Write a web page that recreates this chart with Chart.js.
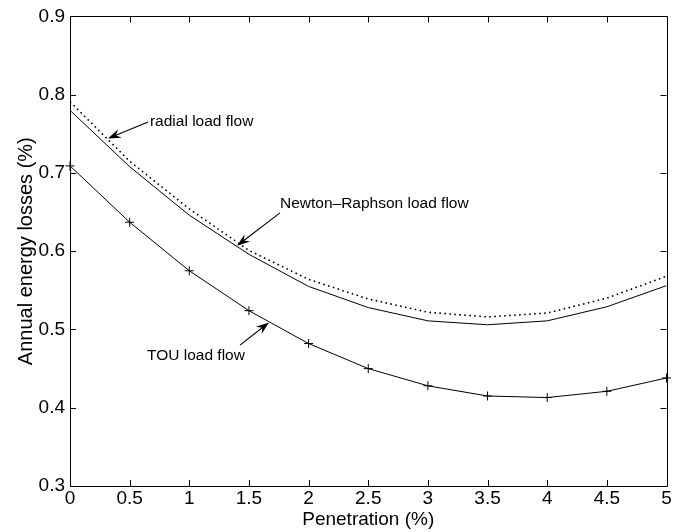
<!DOCTYPE html>
<html>
<head>
<meta charset="utf-8">
<script src="https://cdn.jsdelivr.net/npm/chart.js@4/dist/chart.umd.min.js"></script>
<style>
    html, body { margin: 0; padding: 0; background: #fff; }
    #wrap { width: 684px; height: 532px; }
</style>
</head>
<body>
<div id="wrap"><canvas id="lossChart" width="684" height="532"></canvas></div>
<script>
// ============================================================================
// DATA
// ============================================================================

const penetration = [0, 0.5, 1, 1.5, 2, 2.5, 3, 3.5, 4, 4.5, 5];
const radialLoss = [0.791, 0.715, 0.654, 0.601, 0.564, 0.539, 0.522, 0.516, 0.521, 0.540, 0.568];
const newtonLoss = [0.780, 0.708, 0.646, 0.596, 0.555, 0.528, 0.511, 0.506, 0.511, 0.529, 0.556];
const touLoss = [0.709, 0.637, 0.575, 0.524, 0.482, 0.450, 0.428, 0.415, 0.413, 0.421, 0.438];

const xTickValues = [0, 0.5, 1, 1.5, 2, 2.5, 3, 3.5, 4, 4.5, 5];
const yTickValues = [0.3, 0.4, 0.5, 0.6, 0.7, 0.8, 0.9];

// text position (x, y), arrow tail (x, y), arrow head (x, y), in data units
const notes = [
    { text: 'radial load flow', align: 'left', at: [0.67, 0.765], tail: [0.655, 0.765], head: [0.318, 0.744] },
    { text: 'Newton\u2013Raphson load flow', align: 'left', at: [1.76, 0.661], tail: [1.76, 0.649], head: [1.40, 0.607] },
    { text: 'TOU load flow', align: 'right', at: [1.466, 0.467], tail: [1.425, 0.480], head: [1.668, 0.509] }
];

const FONT = 'Liberation Sans, Arial, Helvetica, sans-serif';

function toPoints(values) {
    return penetration.map((x, i) => ({ x: x, y: values[i] }));
}

// ============================================================================
// PLUGIN: MATLAB-like box, inward ticks, arrows
// ============================================================================

const matlabAxes = {
    id: 'matlabAxes',
    afterDatasetsDraw(chart) {
        const { ctx, chartArea: a, scales: { x, y } } = chart;
        const tick = 6;
        ctx.save();
        ctx.strokeStyle = '#000';
        ctx.lineWidth = 1;
        ctx.beginPath();
        ctx.rect(Math.round(a.left) + 0.5, Math.round(a.top) + 0.5,
                 Math.round(a.right - a.left), Math.round(a.bottom - a.top));
        xTickValues.forEach(v => {
            const px = Math.round(x.getPixelForValue(v)) + 0.5;
            ctx.moveTo(px, a.bottom); ctx.lineTo(px, a.bottom - tick);
            ctx.moveTo(px, a.top); ctx.lineTo(px, a.top + tick);
        });
        yTickValues.forEach(v => {
            const py = Math.round(y.getPixelForValue(v)) + 0.5;
            ctx.moveTo(a.left, py); ctx.lineTo(a.left + tick, py);
            ctx.moveTo(a.right, py); ctx.lineTo(a.right - tick, py);
        });
        ctx.stroke();
        ctx.restore();
    },
    afterDraw(chart) {
        const { ctx, scales: { x, y } } = chart;
        ctx.save();
        ctx.fillStyle = '#000';
        ctx.strokeStyle = '#000';
        ctx.font = '15.5px ' + FONT;
        ctx.textBaseline = 'middle';
        notes.forEach(n => {
            ctx.textAlign = n.align;
            ctx.fillText(n.text, x.getPixelForValue(n.at[0]), y.getPixelForValue(n.at[1]));
            drawArrow(ctx,
                x.getPixelForValue(n.tail[0]), y.getPixelForValue(n.tail[1]),
                x.getPixelForValue(n.head[0]), y.getPixelForValue(n.head[1]));
        });
        ctx.restore();
    }
};

function drawArrow(ctx, x0, y0, x1, y1) {
    const ang = Math.atan2(y1 - y0, x1 - x0);
    const len = 13, half = 4.6;
    ctx.lineWidth = 1.1;
    ctx.beginPath();
    ctx.moveTo(x0, y0);
    ctx.lineTo(x1 - Math.cos(ang) * len * 0.6, y1 - Math.sin(ang) * len * 0.6);
    ctx.stroke();
    ctx.save();
    ctx.translate(x1, y1);
    ctx.rotate(ang);
    ctx.beginPath();
    ctx.moveTo(0, 0);
    ctx.lineTo(-len, half);
    ctx.lineTo(-len * 0.65, 0);
    ctx.lineTo(-len, -half);
    ctx.closePath();
    ctx.fill();
    ctx.restore();
}

// ============================================================================
// CHART
// ============================================================================

new Chart(document.getElementById('lossChart'), {
    type: 'line',
    data: {
        datasets: [
            {
                label: 'radial load flow',
                data: toPoints(radialLoss),
                borderColor: '#000',
                borderWidth: 1.6,
                borderDash: [1.6, 3.4],
                pointRadius: 0,
                tension: 0,
                fill: false
            },
            {
                label: 'Newton-Raphson load flow',
                data: toPoints(newtonLoss),
                borderColor: '#000',
                borderWidth: 1,
                pointRadius: 0,
                tension: 0,
                fill: false
            },
            {
                label: 'TOU load flow',
                data: toPoints(touLoss),
                borderColor: '#000',
                borderWidth: 1,
                pointStyle: 'cross',
                pointRadius: 4.5,
                pointBorderColor: '#000',
                pointBorderWidth: 1,
                tension: 0,
                fill: false,
                clip: false
            }
        ]
    },
    options: {
        responsive: false,
        animation: false,
        events: [],
        layout: { padding: { left: 0, right: 17.5, top: 15, bottom: 0 } },
        plugins: {
            legend: { display: false },
            tooltip: { enabled: false }
        },
        scales: {
            x: {
                type: 'linear',
                min: 0,
                max: 5,
                afterBuildTicks: s => { s.ticks = xTickValues.map(v => ({ value: v })); },
                afterFit: s => { s.height = 46; },
                grid: { display: false, drawTicks: false },
                border: { display: false },
                ticks: {
                    autoSkip: false,
                    maxRotation: 0,
                    padding: 1,
                    color: '#000',
                    font: { family: FONT, size: 19 },
                    callback: v => String(v)
                },
                title: {
                    display: true,
                    text: 'Penetration (%)',
                    color: '#000',
                    font: { family: FONT, size: 19 },
                    padding: { top: 0, bottom: 1 }
                }
            },
            y: {
                type: 'linear',
                min: 0.3,
                max: 0.9,
                afterBuildTicks: s => { s.ticks = yTickValues.map(v => ({ value: v })); },
                afterFit: s => { s.width = 70; },
                grid: { display: false, drawTicks: false },
                border: { display: false },
                ticks: {
                    autoSkip: false,
                    padding: 5,
                    color: '#000',
                    font: { family: FONT, size: 19 },
                    callback: v => Number(v).toFixed(1)
                },
                title: {
                    display: true,
                    text: 'Annual energy losses (%)',
                    color: '#000',
                    font: { family: FONT, size: 20 },
                    padding: { top: 14, bottom: 0 }
                }
            }
        }
    },
    plugins: [matlabAxes]
});
</script>
</body>
</html>
